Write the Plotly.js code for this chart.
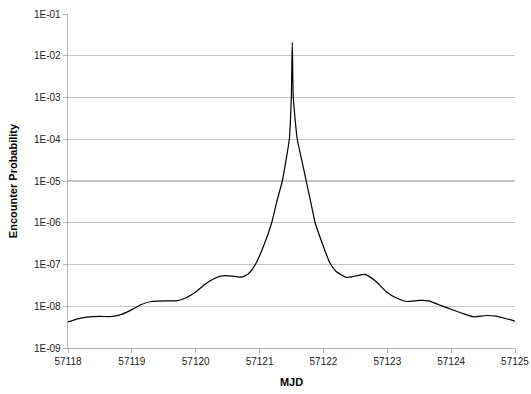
<!DOCTYPE html>
<html>
<head>
<meta charset="utf-8">
<script src="https://cdn.plot.ly/plotly-3.0.1.min.js"></script>
<style>html,body{margin:0;padding:0;background:#fff;}#chart{width:531px;height:394px;}</style>
</head>
<body>
<div id="chart"></div>
<script>
const mjd = [57118.00, 57118.15, 57118.30, 57118.50, 57118.70, 57118.85, 57119.00, 57119.15, 57119.30, 57119.50,
  57119.70, 57119.85, 57120.00, 57120.15, 57120.30, 57120.45, 57120.60, 57120.72, 57120.82, 57120.93,
  57121.06, 57121.19, 57121.27, 57121.356, 57121.415, 57121.466, 57121.497, 57121.512, 57121.528, 57121.59,
  57121.66, 57121.73, 57121.80, 57121.87, 57122.00, 57122.10, 57122.20, 57122.36, 57122.50,
  57122.65, 57122.80, 57122.99, 57123.15, 57123.30, 57123.50, 57123.65, 57123.80, 57123.95, 57124.15,
  57124.35, 57124.55, 57124.70, 57124.85, 57125.00];
const probability = [4.2e-9, 5.0e-9, 5.5e-9, 5.7e-9, 5.7e-9, 6.5e-9, 8.3e-9, 1.1e-8, 1.3e-8, 1.35e-8,
  1.35e-8, 1.6e-8, 2.2e-8, 3.4e-8, 4.7e-8, 5.4e-8, 5.2e-8, 5.0e-8, 5.9e-8, 9.8e-8,
  2.7e-7, 1.0e-6, 3.2e-6, 1.0e-5, 3.2e-5, 1.0e-4, 1.0e-3, 2.1e-2, 1.0e-3, 1.0e-4,
  3.2e-5, 1.0e-5, 3.2e-6, 1.0e-6, 2.7e-7, 1.1e-7, 6.8e-8, 4.9e-8, 5.3e-8,
  5.8e-8, 4.2e-8, 2.2e-8, 1.55e-8, 1.3e-8, 1.38e-8, 1.35e-8, 1.1e-8, 9.0e-9, 7.0e-9,
  5.6e-9, 6.0e-9, 5.8e-9, 5.1e-9, 4.4e-9];
const yTickVals = [1e-9, 1e-8, 1e-7, 1e-6, 1e-5, 1e-4, 1e-3, 1e-2, 1e-1];
const yTickText = ['1E-09', '1E-08', '1E-07', '1E-06', '1E-05', '1E-04', '1E-03', '1E-02', '1E-01'];
const xTickVals = [57118, 57119, 57120, 57121, 57122, 57123, 57124, 57125];

const trace = {
  x: mjd, y: probability, type: 'scatter', mode: 'lines',
  line: {color: '#000000', width: 1.2, shape: 'spline', smoothing: 0.5},
  hoverinfo: 'none'
};
const layout = {
  width: 531, height: 394,
  margin: {l: 68, r: 16, t: 14, b: 46},
  paper_bgcolor: '#ffffff', plot_bgcolor: '#ffffff',
  font: {family: 'Liberation Sans, Arial, sans-serif', size: 10, color: '#222222'},
  showlegend: false,
  xaxis: {
    range: [57118, 57125], tickvals: xTickVals, ticktext: xTickVals.map(String),
    showgrid: false, zeroline: false, showline: true, linecolor: '#b3b3b3', linewidth: 1.3,
    ticks: 'outside', ticklen: 4, tickcolor: '#b3b3b3', tickwidth: 1,
    tickfont: {size: 10, color: '#222222'},
    title: {text: '<b>MJD</b>', font: {size: 11, color: '#000000'}, standoff: 12}
  },
  yaxis: {
    type: 'log', range: [-9, -1], tickvals: yTickVals, ticktext: yTickText,
    showgrid: true, gridcolor: '#c4c4c4', gridwidth: 1.3, zeroline: false,
    showline: true, linecolor: '#b3b3b3', linewidth: 1.3,
    ticks: 'outside', ticklen: 4, tickcolor: '#b3b3b3', tickwidth: 1,
    tickfont: {size: 10, color: '#222222'},
    title: {text: '<b>Encounter Probability</b>', font: {size: 11, color: '#000000'}, standoff: 14}
  }
};
Plotly.newPlot('chart', [trace], layout, {staticPlot: true, displayModeBar: false});
</script>
</body>
</html>
